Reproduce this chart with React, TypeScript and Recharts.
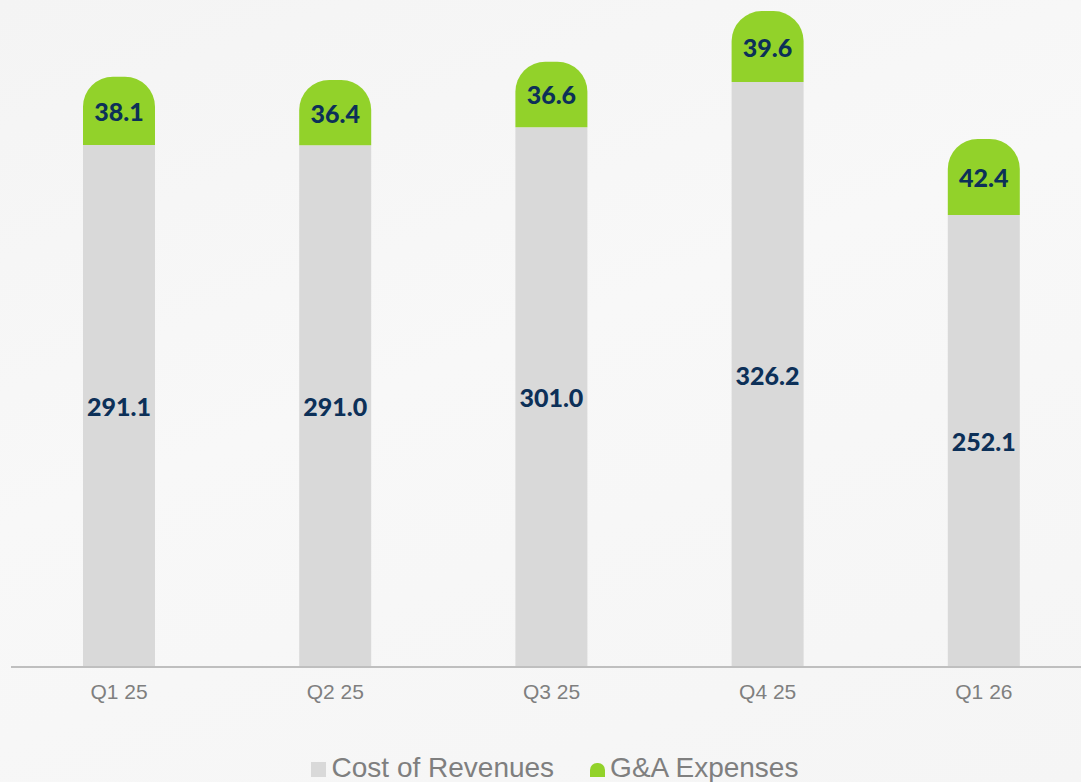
import { BarChart, Bar, XAxis, YAxis, Legend, LabelList } from 'recharts';

const quarters = ['Q1 25', 'Q2 25', 'Q3 25', 'Q4 25', 'Q1 26'];
const costOfRevenues = [291.1, 291.0, 301.0, 326.2, 252.1];
const gaExpenses = [38.1, 36.4, 36.6, 39.6, 42.4];

const data = quarters.map((q, i) => ({
  quarter: q,
  cost: costOfRevenues[i],
  ga: gaExpenses[i],
}));

const GRAY = '#d9d9d9';
const GREEN = '#92d22a';
const NAVY = '#0c3058';
const TEXT_GRAY = '#7f7f7f';
const SANS = "'Liberation Sans', Arial, sans-serif";

const ValueLabel = (props: any) => {
  const { x, y, width, height, value } = props;
  return (
    <text
      x={x + width / 2}
      y={y + height / 2}
      textAnchor="middle"
      dominantBaseline="central"
      fill={NAVY}
      fontFamily="Lato, 'Open Sans', sans-serif"
      fontWeight={900}
      fontSize={25}
    >
      {Number(value).toFixed(1)}
    </text>
  );
};

const QuarterTick = (props: any) => {
  const { x, y, payload } = props;
  return (
    <text
      x={x}
      y={y + 26}
      textAnchor="middle"
      fill={TEXT_GRAY}
      fontFamily={SANS}
      fontSize={21}
    >
      {payload.value}
    </text>
  );
};

const LegendContent = () => (
  <div
    style={{
      display: 'flex',
      justifyContent: 'center',
      alignItems: 'center',
      fontFamily: SANS,
      fontSize: 28,
      color: TEXT_GRAY,
      height: 30,
      paddingLeft: 6,
    }}
  >
    <span style={{ display: 'flex', alignItems: 'center', marginRight: 36 }}>
      <span style={{ width: 15, height: 15, background: GRAY, marginRight: 6, marginTop: 2 }} />
      Cost of Revenues
    </span>
    <span style={{ display: 'flex', alignItems: 'center' }}>
      <span
        style={{
          width: 15,
          height: 14,
          background: GREEN,
          marginRight: 5,
          marginTop: 3,
          borderRadius: '7px 7px 0 0',
        }}
      />
      G&amp;A Expenses
    </span>
  </div>
);

const App = () => {
  return (
    <div
      style={{
        position: 'fixed',
        top: 0,
        left: 0,
        width: 1081,
        height: 782,
        overflow: 'hidden',
        background: 'linear-gradient(160deg, #f4f4f4 0%, #f8f8f8 45%, #f5f5f5 100%)',
      }}
    >
      <BarChart
        width={1092}
        height={782}
        data={data}
        margin={{ top: 0, right: 0, bottom: 0, left: 11 }}
      >
        <XAxis
          dataKey="quarter"
          height={85}
          tickLine={false}
          tickMargin={0}
          axisLine={{ stroke: '#bfbfbf', strokeWidth: 2 }}
          tick={<QuarterTick />}
        />
        <YAxis hide domain={[0, 372]} />
        <Legend
          verticalAlign="bottom"
          content={<LegendContent />}
          wrapperStyle={{ height: 30, bottom: -1 }}
        />
        <Bar dataKey="cost" stackId="a" fill={GRAY} barSize={72} isAnimationActive={false}>
          <LabelList dataKey="cost" content={<ValueLabel />} />
        </Bar>
        <Bar
          dataKey="ga"
          stackId="a"
          fill={GREEN}
          barSize={72}
          radius={[30, 30, 0, 0]}
          isAnimationActive={false}
        >
          <LabelList dataKey="ga" content={<ValueLabel />} />
        </Bar>
      </BarChart>
    </div>
  );
};

export default App;
